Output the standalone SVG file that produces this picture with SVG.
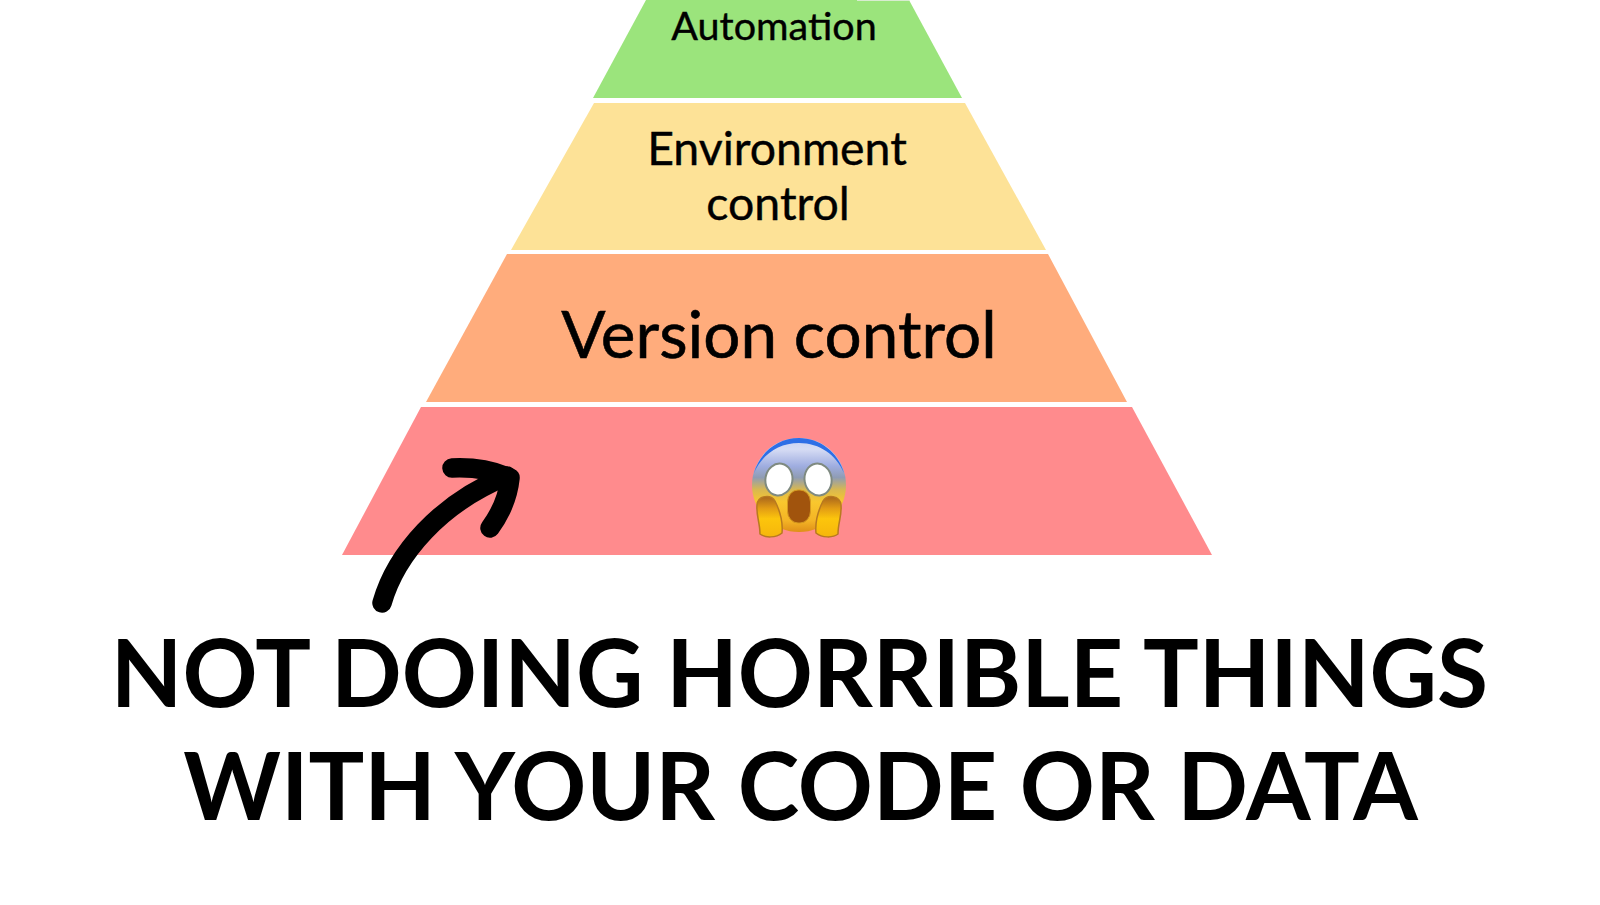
<svg xmlns="http://www.w3.org/2000/svg" width="1600" height="905" viewBox="0 0 1600 905">
<style>
text{font-family:Lato,"Liberation Sans",sans-serif;fill:#000;text-anchor:middle}
.t1{font-size:39.5px;stroke:#000;stroke-width:.4}.t2{font-size:46.4px;stroke:#000;stroke-width:.4}.t3{font-size:65.6px;stroke:#000;stroke-width:.6}
.title{font-size:93px;font-weight:700}
.arrow{fill:none;stroke:#000;stroke-width:19.500;stroke-linecap:round;stroke-linejoin:round}
.hand{fill:url(#hand);stroke:#b87a20;stroke-width:1.500}
</style>
<defs>
<linearGradient id="face" x1="0" y1="0" x2="0" y2="1">
<stop offset="0" stop-color="#c9d2f2"/><stop offset=".12" stop-color="#d6dcf4"/><stop offset=".3" stop-color="#9fade0"/><stop offset=".42" stop-color="#8f9cb4"/><stop offset=".55" stop-color="#d8b850"/><stop offset=".68" stop-color="#f9c72e"/><stop offset=".88" stop-color="#f4b425"/><stop offset="1" stop-color="#df8f18"/>
</linearGradient>
<linearGradient id="hand" x1="0" y1="0" x2="0" y2="1">
<stop offset="0" stop-color="#a8651c"/><stop offset=".3" stop-color="#e39d14"/><stop offset=".55" stop-color="#fcc50c"/><stop offset="1" stop-color="#f6b60c"/>
</linearGradient>
</defs>
<rect width="1600" height="905" fill="#fff"/>
<g id="level-automation"><polygon points="646,0 909,0 962,98 593,98" fill="#9be47c"/><rect x="857" y="0" width="52" height="1" fill="#d8ecd0"/><text class="t1" x="774" y="40">Automation</text></g>
<g id="level-environment"><polygon points="594,103 965,103 1046,250 511,250" fill="#fde297"/><text class="t2" x="777" y="165">Environment</text><text class="t2" x="778" y="220">control</text></g>
<g id="level-version"><polygon points="507,254 1048,254 1127,402 426,402" fill="#ffac7c"/><text class="t3" x="779" y="358">Version control</text></g>
<g id="level-base"><polygon points="421,407 1132,407 1212,555 342,555" fill="#ff8b8d"/>
<g id="emoji">
<circle cx="799" cy="485" r="47" fill="url(#face)"/>
<path d="M754,473C760,452 778,438 799,438C820,438 838,452 844,473C836,455 820,443 799,443C778,443 762,455 754,473Z" fill="#2e6fe6"/>
<ellipse cx="779" cy="479.500" rx="13.500" ry="16" fill="#fff" stroke="#7f8a80" stroke-width="2" transform="rotate(10 779 479)"/>
<ellipse cx="818" cy="479.500" rx="13.500" ry="16" fill="#fff" stroke="#7f8a80" stroke-width="2" transform="rotate(-10 818 479)"/>
<rect x="787.500" y="490" width="23" height="33" rx="10.500" ry="12" fill="#a1540d" stroke="#d69a20" stroke-width="1"/>
<path class="hand" d="M757,505C758,495 771,494 775,501C780,511 783,523 782,533C776,538 765,538 760,534C760,523 756,515 757,505Z"/>
<path class="hand" d="M841,505C840,495 827,494 823,501C818,511 815,523 816,533C822,538 833,538 838,534C838,523 842,515 841,505Z"/>
</g></g>
<g id="connectors"><path class="arrow" d="M382,603C396,554 440,503 507,476"/><path class="arrow" d="M452,468C472,467 492,470 510,478C508,497 501,513 490,528"/></g>
<g id="caption"><text class="title" x="799.500" y="707">NOT DOING HORRIBLE THINGS</text><text class="title" x="800.500" y="820">WITH YOUR CODE OR DATA</text></g>
</svg>
